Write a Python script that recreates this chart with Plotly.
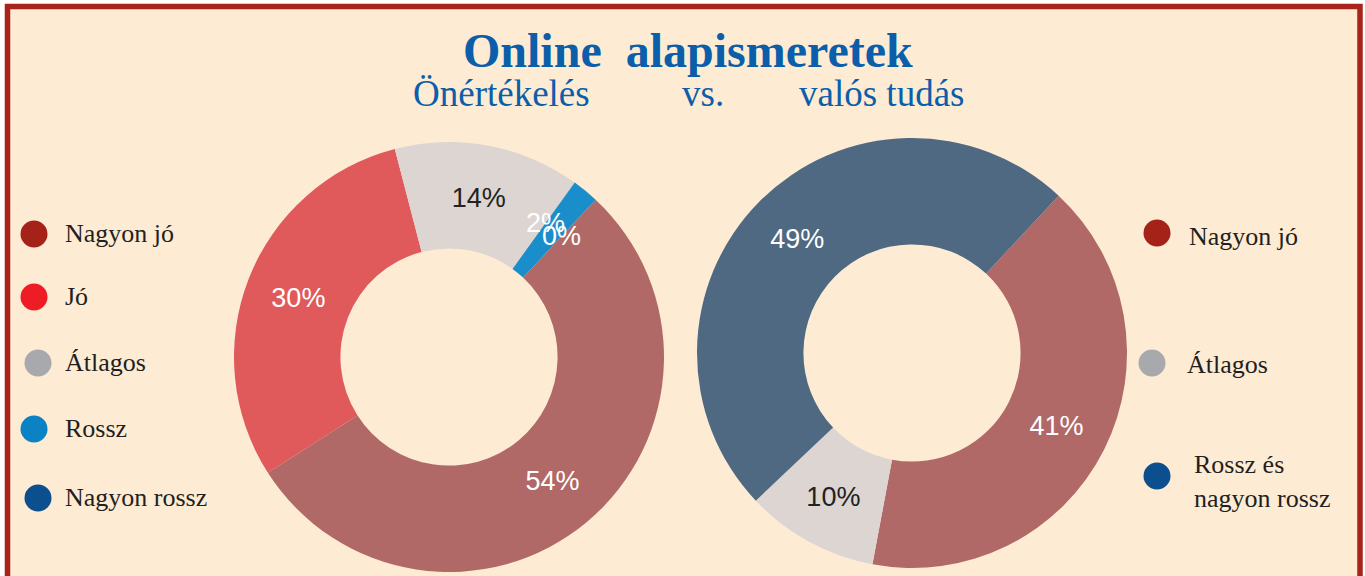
import math
import plotly.graph_objects as go

# ---- data ----
left_labels = ["Nagyon jó", "Jó", "Átlagos", "Rossz", "Nagyon rossz"]
left_values = [54, 30, 14, 2, 0]
left_colors = ["#B06966", "#E0595B", "#DCD5D1", "#1A8DCB", "#1F4F84"]
left_textcolors = ["white", "white", "#222222", "white", "white"]

right_labels = ["Nagyon jó", "Átlagos", "Rossz és nagyon rossz"]
right_values = [41, 10, 49]
right_colors = ["#B06966", "#DCD5D1", "#4E6981"]
right_textcolors = ["white", "#222222", "white"]

legend_left_labels = ["Nagyon jó", "Jó", "Átlagos", "Rossz", "Nagyon rossz"]
legend_left_colors = ["#A52219", "#EE1C25", "#A8A9AD", "#0A82C4", "#0B4F8E"]
legend_right_labels = ["Nagyon jó", "Átlagos", "Rossz és<br>nagyon rossz"]
legend_right_colors = ["#A52219", "#A8A9AD", "#0B4F8E"]

W, H = 1365, 576
BG = "#FDEBD4"
BORDER = "#A8231A"
BLUE = "#0B5EAA"
ROT = 43
HOLE = 0.505
SMALL = 5  # slices below this percentage get their label placed as an annotation

fig = go.Figure()


def texts_for(values):
    tot = sum(values)
    return ["%{percent}" if v / tot * 100 >= SMALL else "" for v in values]


pie_common = dict(
    hole=HOLE, sort=False, direction="clockwise", rotation=ROT,
    textinfo="percent", textposition="inside", insidetextorientation="horizontal",
    marker_line_width=0, showlegend=False, hoverinfo="label+percent",
)

L_DOM = dict(x=[234 / W, 664 / W], y=[1 - 572 / H, 1 - 142 / H])
R_DOM = dict(x=[697 / W, 1127 / W], y=[1 - 568 / H, 1 - 138 / H])

fig.add_trace(go.Pie(
    labels=left_labels, values=left_values, texttemplate=texts_for(left_values),
    marker_colors=left_colors,
    textfont=dict(family="Liberation Sans, Arial", size=27, color=left_textcolors),
    domain=L_DOM, **pie_common,
))
fig.add_trace(go.Pie(
    labels=right_labels, values=right_values, texttemplate=texts_for(right_values),
    marker_colors=right_colors,
    textfont=dict(family="Liberation Sans, Arial", size=27, color=right_textcolors),
    domain=R_DOM, **pie_common,
))

# legend markers (pixel-space hidden axes)
leg_left_x = [34, 34, 38, 34, 38]
leg_left_y = [234, 297, 363, 429, 498]
leg_right_x = [1157, 1152, 1157]
leg_right_y = [233, 363, 476]

fig.add_trace(go.Scatter(
    x=leg_left_x + leg_right_x, y=leg_left_y + leg_right_y, mode="markers",
    marker=dict(size=27, color=legend_left_colors + legend_right_colors, line_width=0),
    showlegend=False, hoverinfo="skip",
))

annotations = []

# labels of very thin slices, placed at the slice's leading edge in the middle of the ring
for values, textcolors, dom in [(left_values, left_textcolors, L_DOM)]:
    tot = sum(values)
    cx = (dom["x"][0] + dom["x"][1]) / 2 * W
    cy = (1 - (dom["y"][0] + dom["y"][1]) / 2) * H
    r_out = (dom["x"][1] - dom["x"][0]) * W / 2
    r_mid = r_out * (1 + HOLE) / 2 + 3
    cum = 0
    for v, tc in zip(values, textcolors):
        frac = v / tot
        if frac * 100 < SMALL:
            ang = math.radians(ROT + cum * 360)
            annotations.append(dict(
                x=cx + r_mid * math.sin(ang), y=cy - r_mid * math.cos(ang),
                text=f"{round(frac * 100)}%", xref="x", yref="y", showarrow=False,
                xanchor="center", yanchor="middle",
                font=dict(family="Liberation Sans, Arial", size=27, color=tc)))
        cum += frac

serif = "Liberation Serif, Times New Roman, serif"
for lab, y in zip(legend_left_labels, leg_left_y):
    annotations.append(dict(x=63, y=y - 1, text=lab, xref="x", yref="y", xanchor="left",
                            yanchor="middle", showarrow=False,
                            font=dict(family=serif, size=26, color="#231F20")))
right_text_x = [1187, 1185, 1192]
right_text_y = [236, 364, 481]
for lab, x, y in zip(legend_right_labels, right_text_x, right_text_y):
    annotations.append(dict(x=x, y=y, text=lab, xref="x", yref="y", xanchor="left",
                            yanchor="middle", align="left", showarrow=False,
                            font=dict(family=serif, size=26, color="#231F20")))

# titles
annotations.append(dict(x=688, y=50, text="<b>Online\u00a0 alapismeretek</b>", xref="x", yref="y",
                        xanchor="center", yanchor="middle", showarrow=False,
                        font=dict(family=serif, size=48, color=BLUE)))
for txt, x in [("Önértékelés", 501), ("vs.", 703), ("valós tudás", 881)]:
    annotations.append(dict(x=x, y=93, text=txt, xref="x", yref="y",
                            xanchor="center", yanchor="middle", showarrow=False,
                            font=dict(family=serif, size=37, color=BLUE)))

fig.update_layout(
    width=W, height=H,
    margin=dict(l=0, r=0, t=0, b=0),
    paper_bgcolor="white", plot_bgcolor="rgba(0,0,0,0)",
    showlegend=False,
    xaxis=dict(range=[0, W], visible=False, fixedrange=True, domain=[0, 1]),
    yaxis=dict(range=[H, 0], visible=False, fixedrange=True, domain=[0, 1]),
    annotations=annotations,
    shapes=[dict(type="rect", xref="x", yref="y", x0=7.5, x1=1360, y0=6.5, y1=H + 20,
                 line=dict(color=BORDER, width=5.5), fillcolor=BG, layer="below")],
)

fig.write_html("out.html", config={"displayModeBar": False},
               post_script="document.body.style.margin='0';document.body.style.overflow='hidden';")
